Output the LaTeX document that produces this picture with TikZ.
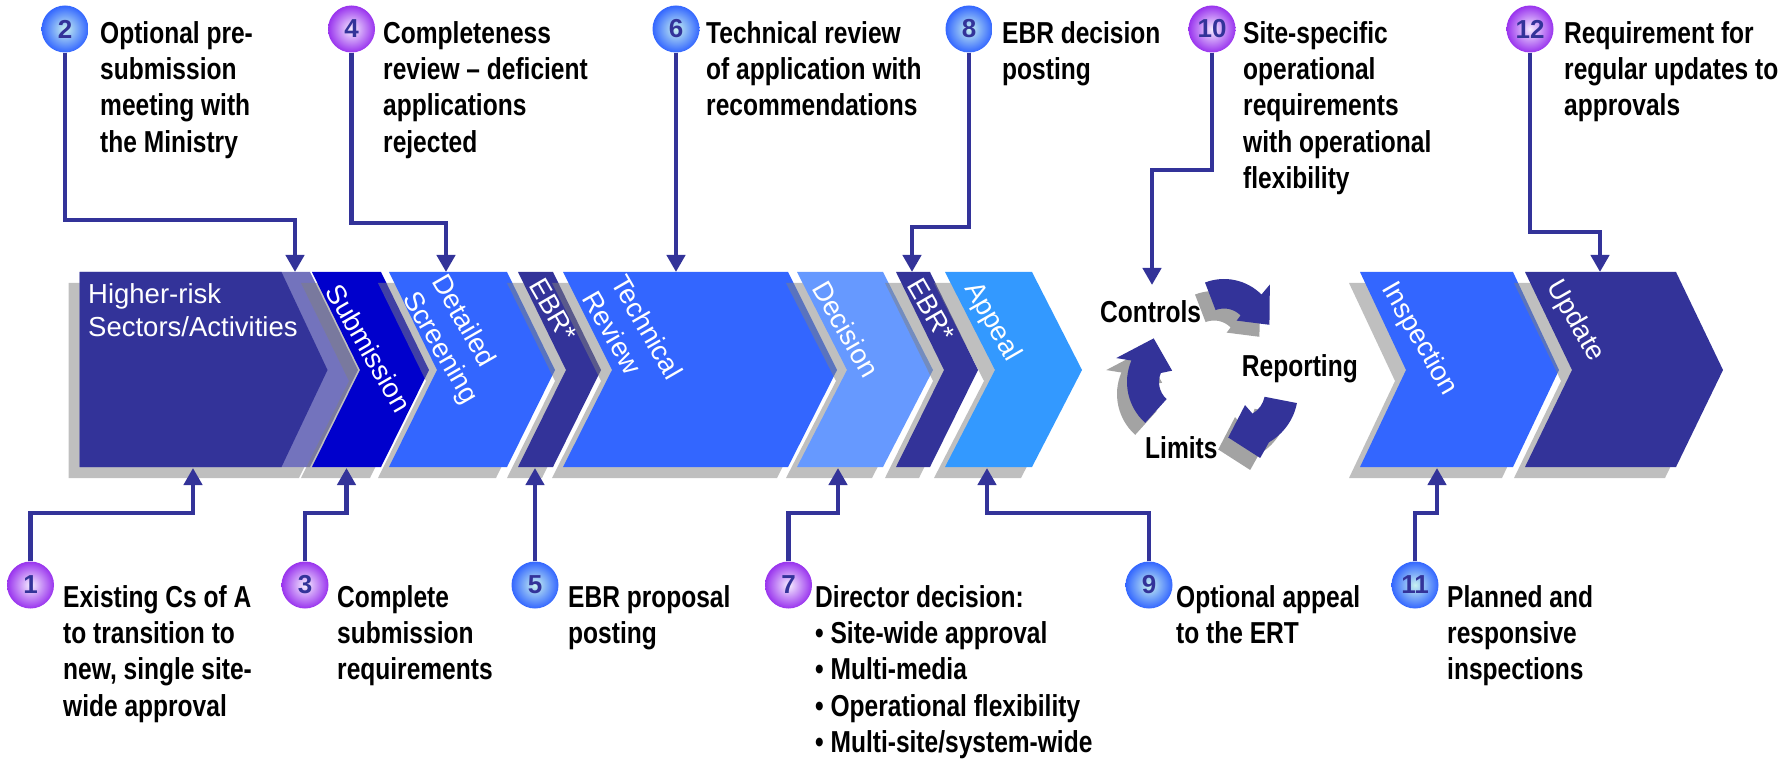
\documentclass[tikz,border=0pt]{standalone}
\usepackage{fontspec}
\setmainfont{Liberation Sans}
\newfontfamily\nb[FakeStretch=0.81,Ligatures=TeX]{Liberation Sans}
\usetikzlibrary{arrows.meta}
\definecolor{navy}{HTML}{333399}
\definecolor{subblue}{HTML}{0000CC}
\definecolor{midblue}{HTML}{3366FF}
\definecolor{decblue}{HTML}{6699FF}
\definecolor{appblue}{HTML}{3399FF}
\definecolor{hatch}{HTML}{7373BD}
\definecolor{cycshadow}{HTML}{A3A3A3}
\definecolor{bin}{HTML}{C8F2F0}
\definecolor{bout}{HTML}{3366FF}
\definecolor{pin}{HTML}{F6EEFF}
\definecolor{pout}{HTML}{9933EE}
\begin{document}
\begin{tikzpicture}[x=1pt,y=-1pt,
  shd/.style={fill=gray, fill opacity=0.5},
  ann/.style={anchor=north west, inner sep=0pt, align=left, text=black,
    font=\nb\bfseries\fontsize{30.3}{36.3}\selectfont},
  lab/.style={inner sep=0pt, align=left, rotate=-60, text=white,
    font=\fontsize{27.5}{33}\selectfont},
  cyclab/.style={anchor=base west, inner sep=0pt, text=black,
    font=\nb\bfseries\fontsize{30.3}{36.3}\selectfont},
  numc/.style={circle, minimum size=47pt, inner sep=0pt, text=navy,
    font=\bfseries\fontsize{26}{26}\selectfont},
  bluec/.style={numc, inner color=bin, outer color=bout},
  purpc/.style={numc, inner color=pin, outer color=pout},
  conn/.style={draw=navy, line width=4.5pt, -{Triangle[width=18pt,length=17pt]}}
]
\useasboundingbox (0,0) rectangle (1780,767);

% ---- chevron band ----
% C1 (Higher-risk)
\fill[shd] (68.5,283) -- (299,283) -- (347,381) -- (299,478) -- (68.5,478) -- cycle;
\fill[hatch] (79.5,272) -- (310,272) -- (358,370) -- (310,467) -- (79.5,467) -- cycle;
\fill[navy] (79.5,272) -- (281.5,272) -- (327.5,370) -- (281.5,467) -- (79.5,467) -- cycle;
% Submission
\fill[shd] (301,283) -- (370,283) -- (418,381) -- (370,478) -- (301,478) -- (349,381) -- cycle;
\fill[subblue] (312,272) -- (381,272) -- (429,370) -- (381,467) -- (312,467) -- (360,370) -- cycle;
% Detailed Screening
\fill[shd] (378,283) -- (496,283) -- (544,381) -- (496,478) -- (378,478) -- (426,381) -- cycle;
\fill[midblue] (389,272) -- (507,272) -- (555,370) -- (507,467) -- (389,467) -- (437,370) -- cycle;
% EBR 1
\fill[shd] (507,283) -- (542,283) -- (590,381) -- (542,478) -- (507,478) -- (555,381) -- cycle;
\fill[navy] (518,272) -- (553,272) -- (601,370) -- (553,467) -- (518,467) -- (566,370) -- cycle;
% Technical Review
\fill[shd] (552,283) -- (777,283) -- (826,381) -- (777,478) -- (552,478) -- (601,381) -- cycle;
\fill[midblue] (563,272) -- (788,272) -- (837,370) -- (788,467) -- (563,467) -- (612,370) -- cycle;
% Decision
\fill[shd] (786,283) -- (872,283) -- (922,381) -- (872,478) -- (786,478) -- (836,381) -- cycle;
\fill[decblue] (797,272) -- (883,272) -- (933,370) -- (883,467) -- (797,467) -- (847,370) -- cycle;
% EBR 2
\fill[shd] (885,283) -- (919,283) -- (967,381) -- (919,478) -- (885,478) -- (933,381) -- cycle;
\fill[navy] (896,272) -- (930,272) -- (978,370) -- (930,467) -- (896,467) -- (944,370) -- cycle;
% Appeal
\fill[shd] (934,283) -- (1021,283) -- (1071,381) -- (1021,478) -- (934,478) -- (984,381) -- cycle;
\fill[appblue] (945,272) -- (1032,272) -- (1082,370) -- (1032,467) -- (945,467) -- (995,370) -- cycle;
% Inspection
\fill[shd] (1349,283) -- (1502,283) -- (1548,381) -- (1502,478) -- (1349,478) -- (1395,381) -- cycle;
\fill[midblue] (1360,272) -- (1513,272) -- (1559,370) -- (1513,467) -- (1360,467) -- (1406,370) -- cycle;
% Update
\fill[shd] (1514,283) -- (1665,283) -- (1712,381) -- (1665,478) -- (1514,478) -- (1561,381) -- cycle;
\fill[navy] (1525,272) -- (1676,272) -- (1723,370) -- (1676,467) -- (1525,467) -- (1572,370) -- cycle;

% ---- chevron labels ----
\node[anchor=north west, inner sep=0pt, align=left, text=white,
  font=\fontsize{27.5}{33}\selectfont] (lhr) at (88,279.9) {\strut Higher-risk\\Sectors/Activities};
\node[lab] (lsub) at (369,348) {Submission};
\node[lab] (lds) at (454,340) {Detailed\\Screening};
\node[lab] (lebr1) at (553,310) {EBR*};
\node[lab] (ltr) at (633,335) {Technical\\Review};
\node[lab] (ldec) at (846,329) {Decision};
\node[lab] (lebr2) at (931,310) {EBR*};
\node[lab] (lapp) at (992,322) {Appeal};
\node[lab] (lins) at (1419,339) {Inspection};
\node[lab] (lupd) at (1575,321) {Update};

% ---- cycle arrows ----
\begin{scope}[shift={(1214,344)}]
\fill[cycshadow] (111:53pt) arc[start angle=111,end angle=45,radius=53pt] -- (46:66pt) -- (9:46pt) -- (42:17pt) -- (45:23.5pt) arc[start angle=45,end angle=111,radius=23.5pt] -- cycle;
\end{scope}
\begin{scope}[shift={(1224,332)}]
\fill[navy] (111:53pt) arc[start angle=111,end angle=45,radius=53pt] -- (46:66pt) -- (9:46pt) -- (42:17pt) -- (45:23.5pt) arc[start angle=45,end angle=111,radius=23.5pt] -- cycle;
\end{scope}
\begin{scope}[shift={(1172,394)}]
\fill[cycshadow] (228:55pt) arc[start angle=228,end angle=157,radius=55pt] -- (160:70pt) -- (123:52pt) -- (131:15pt) -- (157:23pt) arc[start angle=157,end angle=228,radius=23pt] -- cycle;
\end{scope}
\begin{scope}[shift={(1182,382)}]
\fill[navy] (228:55pt) arc[start angle=228,end angle=157,radius=55pt] -- (160:70pt) -- (123:52pt) -- (131:15pt) -- (157:23pt) arc[start angle=157,end angle=228,radius=23pt] -- cycle;
\end{scope}
\begin{scope}[shift={(1230,404)}]
\fill[cycshadow] (-11:58pt) arc[start angle=-11,end angle=-60,radius=58pt] -- (-73:69pt) -- (-104.5:47pt) -- (-69:14pt) -- (-60:25pt) arc[start angle=-60,end angle=-11,radius=25pt] -- cycle;
\end{scope}
\begin{scope}[shift={(1240,392)}]
\fill[navy] (-11:58pt) arc[start angle=-11,end angle=-60,radius=58pt] -- (-73:69pt) -- (-104.5:47pt) -- (-69:14pt) -- (-60:25pt) arc[start angle=-60,end angle=-11,radius=25pt] -- cycle;
\end{scope}
\node[cyclab] (controls) at (1100,323) {Controls};
\node[cyclab] (reporting) at (1241.7,376) {Reporting};
\node[cyclab] (limits) at (1145,458) {Limits};

% ---- numbered circles ----
\node[bluec] (c2) at (65,29) {2};
\node[purpc] (c4) at (351.5,29) {4};
\node[bluec] (c6) at (676,29) {6};
\node[bluec] (c8) at (969,29) {8};
\node[purpc] (c10) at (1212,29) {10};
\node[purpc] (c12) at (1530,29) {12};
\node[purpc] (c1) at (30.5,585) {1};
\node[purpc] (c3) at (305,585) {3};
\node[bluec] (c5) at (535,585) {5};
\node[purpc] (c7) at (788.5,585) {7};
\node[bluec] (c9) at (1149,585) {9};
\node[bluec] (c11) at (1415,585) {11};

% ---- connector points ----
\coordinate (k2) at (295,220);   \coordinate (t2) at (295,272);
\coordinate (k4) at (446,223);   \coordinate (t4) at (446,272);
\coordinate (t6) at (676,272);
\coordinate (k8) at (912,227);   \coordinate (t8) at (912,272);
\coordinate (k10) at (1152,170); \coordinate (t10) at (1152,285);
\coordinate (k12) at (1600,232); \coordinate (t12) at (1600,272);
\coordinate (k1) at (193,513);   \coordinate (t1) at (193,468);
\coordinate (k3) at (346.5,513); \coordinate (t3) at (346.5,468);
\coordinate (t5) at (535,468);
\coordinate (k7) at (838,513);   \coordinate (t7) at (838,468);
\coordinate (k9) at (987,513);   \coordinate (t9) at (987,468);
\coordinate (k11) at (1437,513); \coordinate (t11) at (1437,468);

\draw[conn] (c2) |- (k2) -- (t2);
\draw[conn] (c4) |- (k4) -- (t4);
\draw[conn] (c6) -- (t6);
\draw[conn] (c8) |- (k8) -- (t8);
\draw[conn] (c10) |- (k10) -- (t10);
\draw[conn] (c12) |- (k12) -- (t12);
\draw[conn] (c1) |- (k1) -- (t1);
\draw[conn] (c3) |- (k3) -- (t3);
\draw[conn] (c5) -- (t5);
\draw[conn] (c7) |- (k7) -- (t7);
\draw[conn] (c9) |- (k9) -- (t9);
\draw[conn] (c11) |- (k11) -- (t11);

% ---- annotations ----
\node[ann] (a2) at (100,17.6) {\strut Optional pre-\\submission\\meeting with\\the Ministry};
\node[ann] (a4) at (383,17.6) {\strut Completeness\\review – deficient\\applications\\rejected};
\node[ann] (a6) at (706,17.6) {\strut Technical review\\of application with\\recommendations};
\node[ann] (a8) at (1002,17.6) {\strut EBR decision\\posting};
\node[ann] (a10) at (1243,17.6) {\strut Site-specific\\operational\\requirements\\with operational\\flexibility};
\node[ann] (a12) at (1564,17.6) {\strut Requirement for\\regular updates to\\approvals};
\node[ann] (a1) at (63,581.6) {\strut Existing Cs of A\\to transition to\\new, single site-\\wide approval};
\node[ann] (a3) at (337,581.6) {\strut Complete\\submission\\requirements};
\node[ann] (a5) at (568,581.6) {\strut EBR proposal\\posting};
\node[ann] (a7) at (815,581.6) {\strut Director decision:\\• Site-wide approval\\• Multi-media\\• Operational flexibility\\• Multi-site/system-wide};
\node[ann] (a9) at (1176,581.6) {\strut Optional appeal\\to the ERT};
\node[ann] (a11) at (1447,581.6) {\strut Planned and\\responsive\\inspections};
\end{tikzpicture}
\end{document}
